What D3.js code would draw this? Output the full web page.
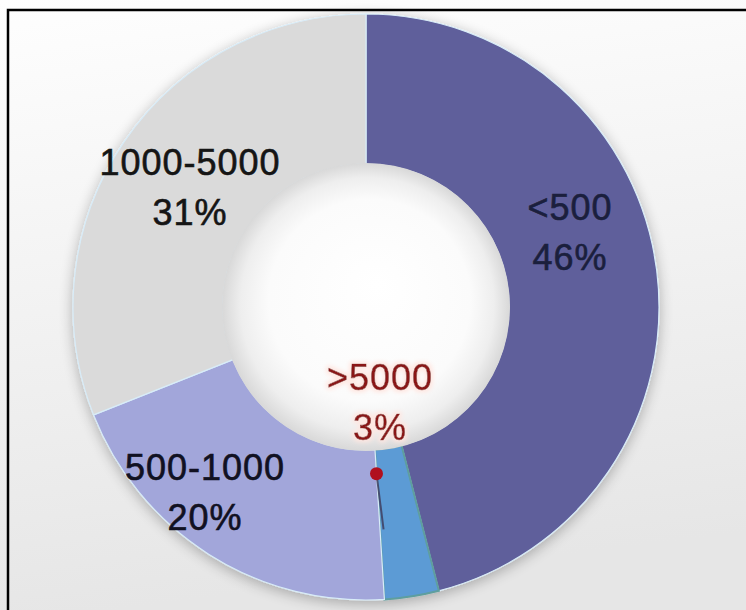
<!DOCTYPE html>
<html><head><meta charset="utf-8">
<script src="https://cdn.jsdelivr.net/npm/d3@7"></script>
<style>html,body{margin:0;padding:0;background:#fff;}svg{display:block;}</style>
</head><body>
<script>
const categories = ["<500", ">5000", "500-1000", "1000-5000"];
const values = [46, 3, 20, 31];
const pctLabels = ["46%", "3%", "20%", "31%"];
const colors = ["#5f5f9b", "#5b9bd5", "#a2a6da", "#dadada"];
const textColors = ["#1b1f3d", "#8a1818", "#111122", "#151515"];
// label offsets from donut centre (layout, not data)
const labelOffsets = [[204, -79], [14, 91], [-161, 181], [-176, -124]];

const W = 746, H = 610;
const cx = 366, cy = 307, rOuter = 293, rInner = 143;

const svg = d3.select("body").append("svg").attr("width", W).attr("height", H);
const defs = svg.append("defs");

const bg = defs.append("linearGradient").attr("id", "bg").attr("x1", 0).attr("y1", 0).attr("x2", 0.15).attr("y2", 1);
bg.append("stop").attr("offset", "0%").attr("stop-color", "#fefefe");
bg.append("stop").attr("offset", "55%").attr("stop-color", "#f1f1f1");
bg.append("stop").attr("offset", "100%").attr("stop-color", "#e6e6e6");

const hole = defs.append("radialGradient").attr("id", "hole").attr("cx", "50%").attr("cy", "50%").attr("r", "50%").attr("fx", "54%").attr("fy", "42%");
hole.append("stop").attr("offset", "0%").attr("stop-color", "#ffffff");
hole.append("stop").attr("offset", "70%").attr("stop-color", "#fbfbfb");
hole.append("stop").attr("offset", "88%").attr("stop-color", "#eeeeee");
hole.append("stop").attr("offset", "100%").attr("stop-color", "#d8d8d8");

const shadow = defs.append("filter").attr("id", "shadow").attr("x", "-20%").attr("y", "-20%").attr("width", "140%").attr("height", "140%");
shadow.append("feGaussianBlur").attr("in", "SourceAlpha").attr("stdDeviation", 7).attr("result", "b");
shadow.append("feOffset").attr("in", "b").attr("dx", 0).attr("dy", 3).attr("result", "o");
shadow.append("feComponentTransfer").attr("in", "o").attr("result", "s")
  .append("feFuncA").attr("type", "linear").attr("slope", 0.28);
const m = shadow.append("feMerge");
m.append("feMergeNode").attr("in", "s");
m.append("feMergeNode").attr("in", "SourceGraphic");

const glow = defs.append("filter").attr("id", "glow").attr("x", "-20%").attr("y", "-30%").attr("width", "140%").attr("height", "160%");
glow.append("feMorphology").attr("in", "SourceAlpha").attr("operator", "dilate").attr("radius", 2).attr("result", "d");
glow.append("feGaussianBlur").attr("in", "d").attr("stdDeviation", 2).attr("result", "g");
glow.append("feFlood").attr("flood-color", "#ffe6e0").attr("result", "c");
glow.append("feComposite").attr("in", "c").attr("in2", "g").attr("operator", "in").attr("result", "cg");
const gm = glow.append("feMerge");
gm.append("feMergeNode").attr("in", "cg");
gm.append("feMergeNode").attr("in", "SourceGraphic");

svg.append("rect").attr("width", W).attr("height", H).attr("fill", "url(#bg)");
svg.append("rect").attr("x", 8).attr("y", 10).attr("width", W + 20).attr("height", H + 20)
  .attr("fill", "none").attr("stroke", "#000").attr("stroke-width", 2.5);

const data = categories.map((c, i) => ({ cat: c, value: values[i], pct: pctLabels[i], color: colors[i], tc: textColors[i], off: labelOffsets[i] }));

const pie = d3.pie().value(d => d.value).sort(null);
const arc = d3.arc().innerRadius(rInner).outerRadius(rOuter);
const arcs = pie(data);

const g = svg.append("g").attr("transform", `translate(${cx},${cy})`);
const ring = g.append("g").attr("filter", "url(#shadow)");
ring.selectAll("path").data(arcs).join("path")
  .attr("d", arc)
  .attr("fill", d => d.data.color)
  .attr("stroke", (d, i) => i === 1 ? "#5e9e9e" : "#d8ecf8")
  .attr("stroke-width", (d, i) => i === 1 ? 2 : 1.2);

// inner hole with soft 3D shading
g.append("circle").attr("r", rInner + 1).attr("fill", "url(#hole)");

// leader line with red marker for the small slice
const small = arcs[1];
const polar = (a, r) => [Math.sin(a) * r, -Math.cos(a) * r];
const dot = polar(small.endAngle, rInner + 24);
const tip = polar(small.endAngle - 0.016, rInner + 80);
g.append("line").attr("x1", dot[0]).attr("y1", dot[1]).attr("x2", tip[0]).attr("y2", tip[1])
  .attr("stroke", "#3f3f60").attr("stroke-width", 2).attr("opacity", 0.85);
g.append("circle").attr("cx", dot[0]).attr("cy", dot[1]).attr("r", 6.5).attr("fill", "#b0101e");

// labels
const labels = g.selectAll("g.lab").data(arcs).join("g").attr("class", "lab")
  .attr("transform", d => `translate(${d.data.off[0]},${d.data.off[1]})`)
  .attr("filter", (d, i) => i === 1 ? "url(#glow)" : null);
[[d => d.data.cat, -8], [d => d.data.pct, 42]].forEach(([fn, y]) => {
  labels.append("text").attr("text-anchor", "middle").attr("y", y)
    .attr("font-family", "'Liberation Sans', Arial, sans-serif").attr("font-size", 36)
    .attr("letter-spacing", 1)
    .attr("fill", d => d.data.tc).attr("stroke", d => d.data.tc).attr("stroke-width", 0.6)
    .text(fn);
});
</script>
</body></html>
